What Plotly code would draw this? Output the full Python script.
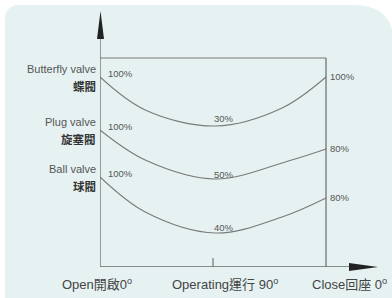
import plotly.graph_objects as go

# ---------------- data ----------------
positions = [0, 90, 180]
position_labels = ["Open開啟0<sup>o</sup>", "Operating運行 90<sup>o</sup>", "Close回座 0<sup>o</sup>"]

valves_en = ["Butterfly valve", "Plug valve", "Ball valve"]
valves_zh = ["蝶閥", "旋塞閥", "球閥"]

start_pct = ["100%", "100%", "100%"]
mid_pct = ["30%", "50%", "40%"]
end_pct = ["100%", "80%", "80%"]

# relative torque curves (arbitrary height units)
butterfly_x = [0, 36, 92, 145, 180]
butterfly_y = [190, 157, 141, 159, 190]
plug_x = [0, 36, 92, 150, 180]
plug_y = [137, 107, 88, 106, 118]
ball_x = [0, 36, 92, 145, 180]
ball_y = [90, 55, 34, 50, 69]

curves = [(butterfly_x, butterfly_y), (plug_x, plug_y), (ball_x, ball_y)]
frame_top = 209

# ---------------- layout helpers ----------------
W, H = 392, 298
L, R, T, B = 100, 12, 10, 31
XR = [0, 223]
YR = [0, 257]
pw, ph = W - L - R, H - T - B


def px2x(px):
    return XR[0] + (px - L) / pw * (XR[1] - XR[0])


def py2y(py):
    return YR[0] + (H - B - py) / ph * (YR[1] - YR[0])


def pp(px, py):  # pixel -> paper
    return (px - L) / pw, (H - B - py) / ph


LINE = "#7a7a7a"
AX = "#6a6a6a"
TXT = "#555555"
FONT = "Liberation Sans, Arial, Noto Sans CJK TC, sans-serif"

fig = go.Figure()
for cx, cy in curves:
    fig.add_trace(go.Scatter(x=cx, y=cy, mode="lines",
                             line=dict(color=LINE, width=1.1, shape="spline", smoothing=1.0),
                             hoverinfo="skip", showlegend=False))

shapes = []
# background panel with rounded top corners
r1, r2 = 15, 40
pts = {
    "a": pp(5, 300), "b": pp(5, 5 + r1), "c": pp(5, 5), "d": pp(5 + r1, 5),
    "e": pp(394 - r2, 5), "f": pp(394, 5), "g": pp(394, 5 + r2), "h": pp(394, 300),
}
path = ("M {a[0]},{a[1]} L {b[0]},{b[1]} Q {c[0]},{c[1]} {d[0]},{d[1]} "
        "L {e[0]},{e[1]} Q {f[0]},{f[1]} {g[0]},{g[1]} L {h[0]},{h[1]} Z").format(**pts)
shapes.append(dict(type="path", xref="paper", yref="paper", path=path,
                   fillcolor="#e6f2f2", line=dict(width=0), layer="below"))
# frame
shapes.append(dict(type="line", xref="x", yref="y", x0=0, x1=positions[-1], y0=frame_top, y1=frame_top,
                   line=dict(color=LINE, width=1.1)))
shapes.append(dict(type="line", xref="x", yref="y", x0=positions[-1], x1=positions[-1], y0=0, y1=frame_top,
                   line=dict(color=AX, width=1.2)))
# axes
shapes.append(dict(type="line", xref="x", yref="y", x0=0, x1=px2x(352), y0=0, y1=0,
                   line=dict(color=AX, width=1.3)))
shapes.append(dict(type="line", xref="x", yref="y", x0=0, x1=0, y0=0, y1=py2y(36),
                   line=dict(color=AX, width=1.3)))
# middle tick
shapes.append(dict(type="line", xref="x", yref="y", x0=positions[1], x1=positions[1], y0=0, y1=9,
                   line=dict(color=AX, width=1.1)))
# arrow heads
t, b1, b2 = pp(100.5, 11), pp(97, 39), pp(104, 39)
shapes.append(dict(type="path", xref="paper", yref="paper",
                   path=f"M {t[0]},{t[1]} L {b1[0]},{b1[1]} L {b2[0]},{b2[1]} Z",
                   fillcolor="#222222", line=dict(width=0)))
t, b1, b2 = pp(378, 267), pp(349, 263), pp(349, 271)
shapes.append(dict(type="path", xref="paper", yref="paper",
                   path=f"M {t[0]},{t[1]} L {b1[0]},{b1[1]} L {b2[0]},{b2[1]} Z",
                   fillcolor="#222222", line=dict(width=0)))

ann = []
pct_font = dict(family=FONT, size=9.5, color=TXT)
mid_shift = [8, 5, 6]
for i, (cx, cy) in enumerate(curves):
    y0, yend = cy[0], cy[-1]
    ymid = cy[2]
    ann.append(dict(x=0, y=y0, text=valves_en[i], xanchor="right", yanchor="middle",
                    xshift=-2, yshift=8, showarrow=False,
                    font=dict(family=FONT, size=11, color=TXT)))
    ann.append(dict(x=0, y=y0, text="<b>" + valves_zh[i] + "</b>", xanchor="right", yanchor="middle",
                    xshift=-2, yshift=-9, showarrow=False,
                    font=dict(family=FONT, size=11.5, color="#333333")))
    ann.append(dict(x=0, y=y0, text=start_pct[i], xanchor="left", yanchor="middle",
                    xshift=6, yshift=4, showarrow=False, font=pct_font))
    ann.append(dict(x=positions[1], y=ymid, text=mid_pct[i], xanchor="center", yanchor="middle",
                    xshift=11, yshift=mid_shift[i], showarrow=False, font=pct_font))
    ann.append(dict(x=positions[-1], y=yend, text=end_pct[i], xanchor="left", yanchor="middle",
                    xshift=2, yshift=1, showarrow=False, font=pct_font))

label_shift = [-3, 12, 23]
for i, p in enumerate(positions):
    ann.append(dict(x=p, y=0, text=position_labels[i], xanchor="center", yanchor="middle",
                    xshift=label_shift[i], yshift=-17, showarrow=False,
                    font=dict(family=FONT, size=13, color="#444444")))

fig.update_layout(
    width=W, height=H,
    margin=dict(l=L, r=R, t=T, b=B),
    paper_bgcolor="white", plot_bgcolor="rgba(0,0,0,0)",
    xaxis=dict(range=XR, visible=False, fixedrange=True),
    yaxis=dict(range=YR, visible=False, fixedrange=True),
    shapes=shapes, annotations=ann, showlegend=False,
)
fig.write_html("out.html", config={"displayModeBar": False},
               post_script="document.body.style.margin='0';document.body.style.overflow='hidden';")
